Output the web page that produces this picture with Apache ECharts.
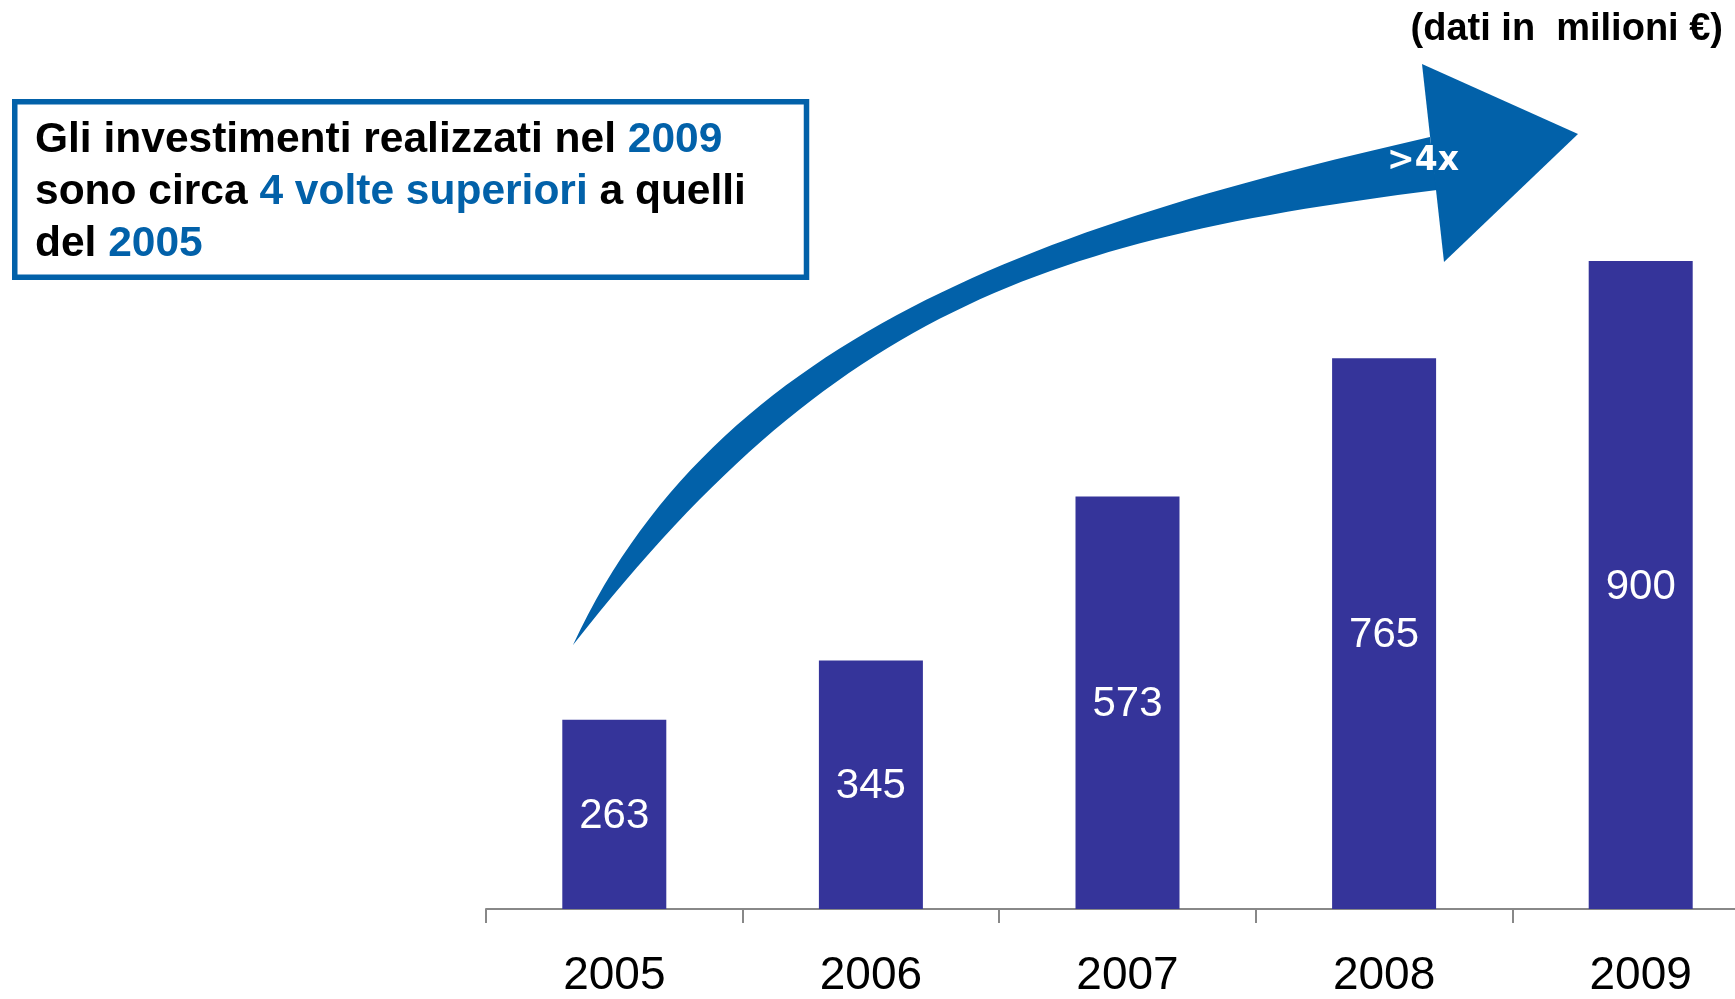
<!DOCTYPE html>
<html lang="it">
<head>
    <meta charset="UTF-8">
    <title>Investimenti realizzati 2005-2009</title>
    <script src="https://cdn.jsdelivr.net/npm/echarts@6.0.0/dist/echarts.min.js"></script>
    <style>
        html, body { margin: 0; padding: 0; background: #fff; overflow: hidden; }
        /* più largo della finestra: l'ultima categoria esce dal bordo destro */
        #chart { width: 1800px; height: 999px; }
    </style>
</head>
<body>
<div id="chart"></div>
<script>
    // dati (milioni di euro)
    var anni = ['2005', '2006', '2007', '2008', '2009'];
    var investimenti = [263, 345, 573, 765, 900];
    var unita = '(dati in  milioni \u20AC)';
    var moltiplicatore = '>4x';

    var BAR = '#35349A';
    var BLUE = '#0261A9';
    var FONT = 'Liberation Sans, Arial, sans-serif';

    // punti di una curva di Bezier cubica
    function bezier(p0, p1, p2, p3, n) {
        var pts = [];
        for (var i = 0; i <= n; i++) {
            var t = i / n, u = 1 - t;
            pts.push([
                u * u * u * p0[0] + 3 * u * u * t * p1[0] + 3 * u * t * t * p2[0] + t * t * t * p3[0],
                u * u * u * p0[1] + 3 * u * u * t * p1[1] + 3 * u * t * t * p2[1] + t * t * t * p3[1]
            ]);
        }
        return pts;
    }

    // corpo della freccia: bordo superiore + bordo inferiore (a ritroso)
    var bordoSup = bezier([573, 645], [716, 335], [1045, 225], [1430, 137], 60);
    var bordoInf = bezier([1437, 190], [1039, 240], [832, 314], [573, 645], 60);
    var corpoFreccia = bordoSup.concat(bordoInf);

    var chart = echarts.init(document.getElementById('chart'));

    chart.setOption({
        animation: false,
        grid: {left: 486, width: 1283, top: 189, bottom: 87},
        xAxis: {
            type: 'category',
            data: anni,
            axisLine: {lineStyle: {color: '#888', width: 2}},
            axisTick: {show: true, length: 14, lineStyle: {color: '#888', width: 2}},
            axisLabel: {color: '#000', fontSize: 46, fontFamily: FONT, margin: 44}
        },
        yAxis: {type: 'value', min: 0, max: 1000, show: false, splitLine: {show: false}},
        series: [{
            type: 'bar',
            data: investimenti,
            barWidth: 104,
            itemStyle: {color: BAR},
            label: {
                show: true,
                position: 'inside',
                offset: [0, 2],
                color: '#fff',
                fontSize: 42,
                fontFamily: FONT
            }
        }],
        graphic: [
            // freccia curva
            {
                type: 'polygon',
                shape: {points: corpoFreccia},
                style: {fill: BLUE}
            },
            {
                type: 'polygon',
                shape: {points: [[1422, 64], [1578, 134], [1444, 262]]},
                style: {fill: BLUE}
            },
            {
                type: 'text',
                x: 1423, y: 161,
                style: {
                    text: moltiplicatore, fill: '#fff',
                    font: 'bold 33px DejaVu Sans, sans-serif',
                    align: 'center', verticalAlign: 'middle'
                }
            },
            // riquadro con il commento
            {
                type: 'rect',
                shape: {x: 14.75, y: 101.75, width: 791.75, height: 175.5},
                style: {fill: '#fff', stroke: BLUE, lineWidth: 5.5}
            },
            {
                type: 'text',
                x: 35, y: 114,
                style: {
                    text: '{k|Gli investimenti realizzati nel }{b|2009}\n' +
                        '{k|sono circa }{b|4 volte superiori}{k| a quelli}\n' +
                        '{k|del }{b|2005}',
                    verticalAlign: 'top',
                    rich: {
                        k: {fill: '#000', fontSize: 42.5, fontWeight: 'bold', fontFamily: FONT, lineHeight: 52},
                        b: {fill: BLUE, fontSize: 42.5, fontWeight: 'bold', fontFamily: FONT, lineHeight: 52}
                    }
                }
            },
            {
                type: 'text',
                x: 1723, y: 30,
                style: {
                    text: unita, fill: '#000',
                    font: 'bold 38px ' + FONT,
                    align: 'right', verticalAlign: 'middle'
                }
            }
        ]
    });
</script>
</body>
</html>
